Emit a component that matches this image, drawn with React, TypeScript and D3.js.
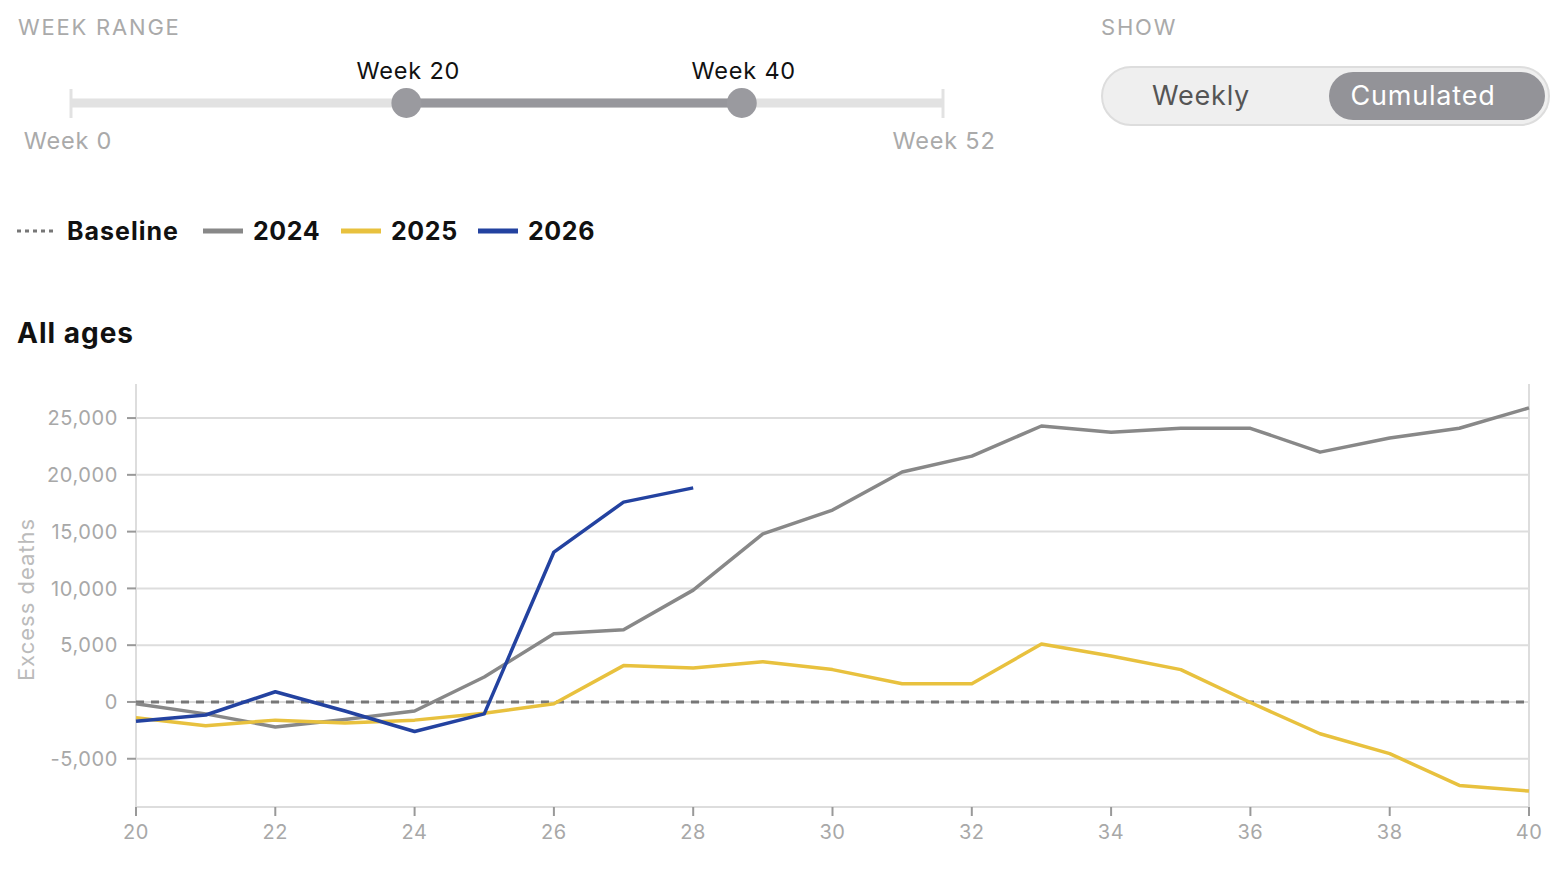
import * as d3 from "d3";

// ── Data ──────────────────────────────────────────────────────────
const weeks = [20, 21, 22, 23, 24, 25, 26, 27, 28, 29, 30, 31, 32, 33, 34, 35, 36, 37, 38, 39, 40];

const excess2024 = [
  -150, -1050, -2200, -1550, -800, 2200, 6000, 6350, 9850, 14800, 16900,
  20250, 21650, 24300, 23750, 24100, 24100, 22000, 23250, 24100, 25900,
];
const excess2025 = [
  -1400, -2100, -1600, -1850, -1600, -1000, -150, 3200, 3000, 3550, 2850,
  1600, 1600, 5100, 4050, 2850, -50, -2800, -4550, -7350, -7850,
];
const excess2026 = [-1700, -1150, 900, -800, -2600, -1050, 13200, 17600, 18850];

const yTicks = [-5000, 0, 5000, 10000, 15000, 20000, 25000];
const xTicks = [20, 22, 24, 26, 28, 30, 32, 34, 36, 38, 40];

const seriesNames = ["2024", "2025", "2026"];
const seriesColors = ["#888888", "#e8c13e", "#2342a0"];

const rangeStart = 20;
const rangeEnd = 40;
const weekMin = 0;
const weekMax = 52;

const FONT = "Inter, 'Noto Sans', sans-serif";

export default function App() {
  const W = 1566;
  const H = 878;
  const plot = { left: 136, right: 1529, top: 384, bottom: 807 };

  const x = d3.scaleLinear().domain([20, 40]).range([plot.left, plot.right]);
  const y = d3.scaleLinear().domain([-9250, 28000]).range([plot.bottom, plot.top]);

  const line = d3
    .line<number>()
    .x((_, i) => x(weeks[i]))
    .y((v) => y(v));

  const series = [excess2024, excess2025, excess2026];

  // slider scale
  const s = d3.scaleLinear().domain([weekMin, weekMax]).range([71, 943]);
  const trackY = 103;

  const fmt = d3.format(",");

  return (
    <div style={{ position: "fixed", left: 0, top: 0, width: W, height: H, background: "#fff" }}>
      <svg width={W} height={H} style={{ fontFamily: FONT, display: "block" }}>
        {/* ── Week range slider ── */}
        <text x={18} y={35} fontSize={22} fill="#aaaaaa" letterSpacing={1.8}>
          WEEK RANGE
        </text>
        <rect x={s(weekMin)} y={trackY - 4.5} width={s(weekMax) - s(weekMin)} height={9} fill="#e2e2e2" />
        <line x1={s(weekMin)} x2={s(weekMin)} y1={89} y2={118} stroke="#e2e2e2" strokeWidth={3} />
        <line x1={s(weekMax)} x2={s(weekMax)} y1={89} y2={118} stroke="#e2e2e2" strokeWidth={3} />
        <rect x={s(rangeStart)} y={trackY - 4.5} width={s(rangeEnd) - s(rangeStart)} height={9} fill="#97979c" />
        <circle cx={s(rangeStart)} cy={trackY} r={15} fill="#9a9a9f" />
        <circle cx={s(rangeEnd)} cy={trackY} r={15} fill="#9a9a9f" />
        <text x={s(rangeStart) + 2} y={79} fontSize={23.5} fill="#111" textAnchor="middle" letterSpacing={0.8}>
          Week {rangeStart}
        </text>
        <text x={s(rangeEnd) + 2} y={79} fontSize={23.5} fill="#111" textAnchor="middle" letterSpacing={0.8}>
          Week {rangeEnd}
        </text>
        <text x={s(weekMin) - 3} y={149} fontSize={23.5} fill="#aaaaaa" textAnchor="middle" letterSpacing={0.8}>
          Week {weekMin}
        </text>
        <text x={s(weekMax) + 1} y={149} fontSize={23.5} fill="#aaaaaa" textAnchor="middle" letterSpacing={0.8}>
          Week {weekMax}
        </text>

        {/* ── Show toggle ── */}
        <text x={1101} y={35} fontSize={22} fill="#aaaaaa" letterSpacing={1.8}>
          SHOW
        </text>
        <rect x={1102} y={67} width={447} height={58} rx={29} fill="#efefef" stroke="#dddddd" strokeWidth={2} />
        <rect x={1329} y={72} width={216} height={48} rx={24} fill="#939398" />
        <text x={1201} y={105} fontSize={27} fill="#555" textAnchor="middle" letterSpacing={0.8}>
          Weekly
        </text>
        <text x={1423} y={105} fontSize={27} fill="#fff" textAnchor="middle" letterSpacing={0.8}>
          Cumulated
        </text>

        {/* ── Legend ── */}
        <line x1={17} x2={57} y1={231} y2={231} stroke="#777" strokeWidth={3} strokeDasharray="4,4" />
        <text x={67} y={240} fontSize={25} fontWeight={700} fill="#111" letterSpacing={1}>
          Baseline
        </text>
        {seriesNames.map((name, i) => {
          const lx = [203, 341, 478][i];
          return (
            <g key={name}>
              <line x1={lx} x2={lx + 40} y1={231} y2={231} stroke={seriesColors[i]} strokeWidth={5} />
              <text x={lx + 50} y={240} fontSize={25} fontWeight={700} fill="#111" letterSpacing={0.6}>
                {name}
              </text>
            </g>
          );
        })}

        {/* ── Title ── */}
        <text x={17} y={343} fontSize={28} fontWeight={700} fill="#111" letterSpacing={1}>
          All ages
        </text>

        {/* ── Grid ── */}
        {yTicks.map((t) => (
          <line key={t} x1={plot.left} x2={plot.right} y1={y(t)} y2={y(t)} stroke="#dddddd" strokeWidth={2} />
        ))}

        {/* axes frame */}
        <line x1={plot.left} x2={plot.left} y1={plot.top} y2={plot.bottom} stroke="#dddddd" strokeWidth={2} />
        <line x1={plot.right} x2={plot.right} y1={plot.top} y2={plot.bottom} stroke="#dddddd" strokeWidth={2} />
        <line x1={plot.left} x2={plot.right} y1={plot.bottom} y2={plot.bottom} stroke="#dddddd" strokeWidth={2} />

        {/* y ticks */}
        {yTicks.map((t) => (
          <g key={"yt" + t}>
            <line x1={plot.left - 9} x2={plot.left} y1={y(t)} y2={y(t)} stroke="#999" strokeWidth={2} />
            <text x={plot.left - 18} y={y(t)} dy="0.36em" fontSize={20} fill="#a8a8a8" textAnchor="end" letterSpacing={0.6}>
              {fmt(t).replace("−", "-")}
            </text>
          </g>
        ))}

        {/* x ticks */}
        {xTicks.map((t) => (
          <g key={"xt" + t}>
            <line x1={x(t)} x2={x(t)} y1={plot.bottom} y2={plot.bottom + 9} stroke="#999" strokeWidth={2} />
            <text x={x(t)} y={plot.bottom + 32} fontSize={20} fill="#a8a8a8" textAnchor="middle" letterSpacing={0.6}>
              {t}
            </text>
          </g>
        ))}

        <text
          transform={`translate(34, ${(plot.top + plot.bottom) / 2 + 4}) rotate(-90)`}
          fontSize={22}
          fill="#bbbbbb"
          textAnchor="middle"
          letterSpacing={1}
        >
          Excess deaths
        </text>

        {/* baseline */}
        <line x1={plot.left} x2={plot.right} y1={y(0)} y2={y(0)} stroke="#777" strokeWidth={3} strokeDasharray="8,7" />

        {/* series */}
        {series.map((vals, i) => (
          <path key={i} d={line(vals) ?? ""} fill="none" stroke={seriesColors[i]} strokeWidth={3.5} strokeLinejoin="round" />
        ))}
      </svg>
    </div>
  );
}
